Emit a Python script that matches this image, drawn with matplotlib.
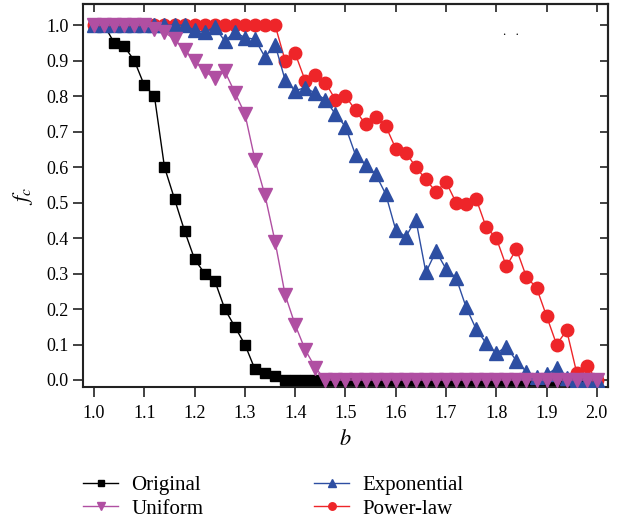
import matplotlib
matplotlib.use('Agg')

import numpy as np
import matplotlib.pyplot as plt

plt.rcParams['font.family'] = ['Liberation Serif', 'DejaVu Serif']
plt.rcParams['mathtext.fontset'] = 'stix'

# b grid: 1.0 .. 2.0 in steps of 0.02
b = np.linspace(1.0, 2.0, 51)

original = [1.0, 1.0, 0.95, 0.94, 0.90, 0.83, 0.80, 0.60, 0.51, 0.42,
            0.34, 0.30, 0.28, 0.20, 0.15, 0.10, 0.03, 0.02, 0.01] + [0.0] * 32

uniform = [1.0] * 6 + [0.99, 0.98, 0.96, 0.93, 0.90, 0.87, 0.85, 0.87, 0.81,
                       0.75, 0.62, 0.52, 0.39, 0.24, 0.155, 0.085, 0.035] + [0.0] * 28

exponential = [1.0] * 10 + [0.985, 0.98, 0.995, 0.955, 0.98, 0.965, 0.96, 0.91,
                            0.945, 0.845, 0.815, 0.824, 0.808, 0.79, 0.749, 0.714,
                            0.634, 0.606, 0.58, 0.524, 0.423, 0.404, 0.452, 0.303,
                            0.363, 0.313, 0.288, 0.205, 0.143, 0.103, 0.075, 0.094,
                            0.054, 0.023, 0.008, 0.016, 0.033, 0.005, 0.0, 0.0, 0.0]

powerlaw = [1.0] * 19 + [0.90, 0.92, 0.843, 0.859, 0.838, 0.79, 0.80, 0.76, 0.72,
                         0.74, 0.716, 0.652, 0.641, 0.60, 0.565, 0.53, 0.558, 0.50,
                         0.496, 0.51, 0.43, 0.40, 0.32, 0.369, 0.29, 0.26, 0.18,
                         0.10, 0.14, 0.02, 0.04, 0.0]

xticks = [1.0, 1.1, 1.2, 1.3, 1.4, 1.5, 1.6, 1.7, 1.8, 1.9, 2.0]
yticks = [0.0, 0.1, 0.2, 0.3, 0.4, 0.5, 0.6, 0.7, 0.8, 0.9, 1.0]

fig = plt.figure(figsize=(6.28, 5.2), dpi=100)
ax = fig.add_axes([0.1322, 0.2558, 0.8358, 0.7362])

l1, = ax.plot(b, original, color='black', marker='s', markersize=7.5, lw=1, zorder=2, label='Original')
l4, = ax.plot(b, powerlaw, color='#EE2529', marker='o', markersize=9, lw=1, zorder=3, label='Power-law')
l3, = ax.plot(b, exponential, color='#2D4EA2', marker='^', markersize=9.5, lw=1, zorder=4, label='Exponential')
l2, = ax.plot(b, uniform, color='#B04FA2', marker='v', markersize=9.5, lw=1, zorder=5, label='Uniform')

ax.set_xlim(0.978, 2.022)
ax.set_ylim(-0.0197, 1.059)
ax.set_xticks(xticks)
ax.set_yticks(yticks)
ax.set_xticklabels(['%.1f' % v for v in xticks])
ax.set_yticklabels(['%.1f' % v for v in yticks])
ax.tick_params(direction='out', length=7, width=1.2, labelsize=13, color='#222222')
ax.tick_params(axis='x', pad=6)

# mirror ticks pointing inward on top and right
top = ax.secondary_xaxis('top')
top.set_xticks(xticks)
top.set_xticklabels([])
top.tick_params(direction='in', length=6, width=1.2, color='#222222')
right = ax.secondary_yaxis('right')
right.set_yticks(yticks)
right.set_yticklabels([])
right.tick_params(direction='in', length=6, width=1.2, color='#222222')

for s in list(ax.spines.values()) + [top.spines['top'], right.spines['right']]:
    s.set_linewidth(1.5)
    s.set_color('#222222')

ax.set_xlabel('$b$', fontsize=16, labelpad=6)
ax.set_ylabel('$f_c$', fontsize=16, labelpad=8)

ax.text(0.80, 0.92, '.   .', transform=ax.transAxes, fontsize=9)

fig.legend(handles=[l1, l2, l3, l4], ncol=2, loc='upper left',
           bbox_to_anchor=(0.132, 0.086), frameon=False, fontsize=15,
           borderpad=0, borderaxespad=0, handlelength=1.7, handletextpad=0.63,
           columnspacing=5.3, labelspacing=0.2, markerscale=0.6)

fig.savefig('out.png', dpi=100)
